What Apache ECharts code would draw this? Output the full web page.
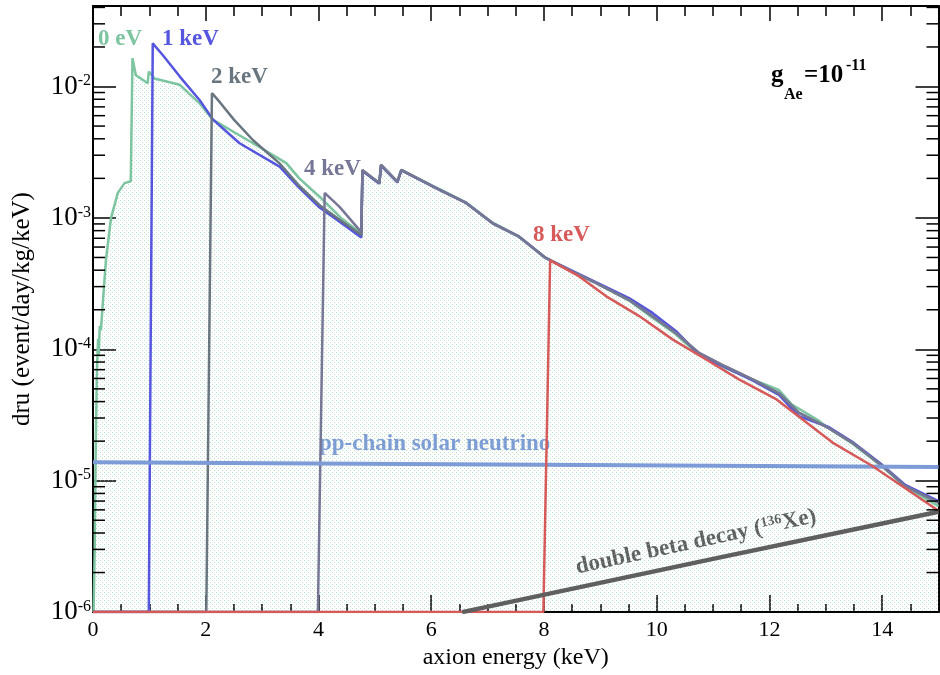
<!DOCTYPE html>
<html><head><meta charset="utf-8">
<script src="https://cdn.jsdelivr.net/npm/echarts@6/dist/echarts.min.js"></script>
<style>html,body{margin:0;padding:0;background:#fff}#c{width:940px;height:675px}</style>
</head><body><div id="c"></div>
<script>
const SERIF = '"Liberation Serif","Times New Roman",serif';

// axis ranges
const xRange = [0, 15];
const yRange = [1e-6, 0.041];
const yMinorMantissas = [2, 3, 4, 5, 6, 7, 8, 9];
const yDecades = [1e-6, 1e-5, 1e-4, 1e-3, 1e-2];

// spectra (x: keV, y: dru)
const green0eV = [[0.01,1e-6],[0.03,3e-6],[0.05,2e-5],[0.07,7e-5],[0.09,1.2e-4],[0.10,9e-5],[0.12,1.5e-4],[0.14,1.4e-4],[0.20,3.2e-4],[0.23,4.8e-4],[0.32,1.0e-3],[0.44,1.55e-3],[0.56,1.84e-3],[0.67,1.9e-3],[0.70,1.64e-2],[0.76,1.22e-2],[0.85,1.15e-2],[0.97,1.06e-2],[0.99,1.3e-2],[1.09,1.15e-2],[1.12,1.17e-2],[1.54,1.03e-2],[1.89,7.45e-3],[2.13,5.57e-3],[2.84,3.7e-3],[3.43,2.61e-3],[3.66,2.0e-3],[4.02,1.45e-3],[4.40,1.0e-3],[4.76,7.6e-4],[4.78,2.3e-3],[5.08,1.84e-3],[5.11,2.52e-3],[5.40,1.89e-3],[5.47,2.32e-3],[6.14,1.66e-3],[6.62,1.31e-3],[7.09,9.2e-4],[7.56,7.2e-4],[8.03,4.96e-4],[8.45,4.0e-4],[8.92,3.2e-4],[9.51,2.35e-4],[9.92,1.75e-4],[10.34,1.3e-4],[10.75,9.1e-5],[11.22,7.2e-5],[11.70,5.9e-5],[12.17,4.9e-5],[12.40,3.8e-5],[12.88,2.85e-5],[13.06,2.5e-5],[13.47,1.92e-5],[14.00,1.28e-5],[14.41,9.0e-6],[15.00,6.4e-6]];
const blue1keV = [[0,1e-6],[0.99,1e-6],[1.06,2.13e-2],[1.24,1.73e-2],[1.54,1.19e-2],[1.89,7.9e-3],[2.13,5.6e-3],[2.60,3.7e-3],[3.31,2.46e-3],[3.66,1.69e-3],[4.02,1.2e-3],[4.40,9.2e-4],[4.76,7.1e-4],[4.78,2.28e-3],[5.08,1.82e-3],[5.11,2.5e-3],[5.40,1.86e-3],[5.47,2.3e-3],[6.14,1.64e-3],[6.62,1.3e-3],[7.09,9.1e-4],[7.56,7.2e-4],[8.03,4.96e-4],[8.45,4.05e-4],[8.92,3.25e-4],[9.51,2.45e-4],[9.92,1.9e-4],[10.34,1.38e-4],[10.75,9.1e-5],[11.22,7.3e-5],[11.70,5.8e-5],[12.17,4.5e-5],[12.52,3.1e-5],[13.06,2.55e-5],[13.47,1.98e-5],[14.00,1.32e-5],[14.41,9.3e-6],[15.00,7.0e-6]];
const gray2keV = [[0,1e-6],[2.01,1e-6],[2.11,8.9e-3],[2.25,7.6e-3],[2.50,5.6e-3],[2.84,3.9e-3],[3.31,2.6e-3],[3.66,1.75e-3],[4.02,1.25e-3],[4.40,9.5e-4],[4.76,7.4e-4],[4.78,2.3e-3],[5.08,1.84e-3],[5.11,2.52e-3],[5.40,1.88e-3],[5.47,2.31e-3],[6.14,1.64e-3],[6.62,1.3e-3],[7.09,9.1e-4],[7.56,7.2e-4],[8.03,4.96e-4],[8.45,4.0e-4],[8.92,3.2e-4],[9.51,2.38e-4],[9.92,1.79e-4],[10.34,1.33e-4],[10.75,9.4e-5],[11.22,7.4e-5],[11.70,5.9e-5],[12.17,4.6e-5],[12.52,3.3e-5],[13.06,2.5e-5],[13.47,1.95e-5],[14.00,1.3e-5],[14.41,9.1e-6],[15.00,6.8e-6]];
const gray4keV = [[0,1e-6],[3.99,1e-6],[4.11,1.55e-3],[4.37,1.22e-3],[4.76,7.8e-4],[4.78,2.32e-3],[5.08,1.84e-3],[5.11,2.54e-3],[5.40,1.89e-3],[5.47,2.32e-3],[6.14,1.64e-3],[6.62,1.3e-3],[7.09,9.1e-4],[7.56,7.2e-4],[8.03,4.96e-4],[8.45,4.0e-4],[8.92,3.2e-4],[9.51,2.37e-4],[9.92,1.79e-4],[10.34,1.33e-4],[10.75,9.4e-5],[11.22,7.4e-5],[11.70,5.9e-5],[12.17,4.65e-5],[12.52,3.3e-5],[13.06,2.5e-5],[13.47,1.95e-5],[14.00,1.3e-5],[14.41,9.1e-6],[15.00,6.8e-6]];
const red8keV = [[0,1e-6],[7.99,1e-6],[8.11,4.75e-4],[8.62,3.6e-4],[9.10,2.54e-4],[9.69,1.79e-4],[10.28,1.19e-4],[10.87,8.4e-5],[11.46,5.9e-5],[12.11,4.2e-5],[13.12,1.95e-5],[13.82,1.3e-5],[15.00,5.9e-6]];
const ppChain = [[0,1.38e-5],[15,1.27e-5]];
const doubleBeta = [[6.55,1e-6],[11,2.54e-6],[15,5.8e-6]];

const yMinorTicks = [];
yDecades.forEach(d => yMinorMantissas.forEach(m => { if (d*m < yRange[1]) yMinorTicks.push(d*m); }));

const C = {green:'#7dc4a0', blue:'#5555dd', g2:'#697680', g4:'#767696', red:'#d65a5a', pp:'#7d9bd7', bb:'#5f5f5f'};

const pc = document.createElement('canvas'); pc.width = 4; pc.height = 4;
const pg = pc.getContext('2d'); pg.fillStyle = 'rgba(125,198,158,0.5)';
pg.fillRect(0,0,1,1); pg.fillRect(2,2,1,1);

const chart = echarts.init(document.getElementById('c'), null, {renderer:'canvas'});
const axLine = {show:true, onZero:false, lineStyle:{color:'#000', width:2}};
const tickStyle = {color:'#000', width:1.5};
function xa(pos, interval, len, withLine, withLabel){
  const a = {type:'value', min:xRange[0], max:xRange[1], interval, position:pos,
    axisLine: withLine ? axLine : {show:false, onZero:false},
    axisTick:{show:true, inside:true, length:len, lineStyle:tickStyle},
    axisLabel:{show:withLabel, fontFamily:SERIF, fontSize:22, color:'#000', margin:7, showMaxLabel:false},
    splitLine:{show:false}};
  if (withLabel) Object.assign(a, {name:'axion energy (keV)', nameLocation:'middle', nameGap:32,
    nameTextStyle:{fontFamily:SERIF, fontSize:24, color:'#000'}});
  return a;
}
function ya(pos, withLabel){
  const a = {type:'log', logBase:10, min:yRange[0], max:yRange[1], position:pos,
    axisLine:axLine, axisTick:{show:true, inside:true, length:23, lineStyle:tickStyle},
    axisLabel:{show:withLabel, margin:2, showMaxLabel:false,
      formatter: v => '{b|10}{s|' + Math.round(Math.log10(v)) + '}',
      rich:{b:{fontFamily:SERIF, fontSize:27, color:'#000'}, s:{fontFamily:SERIF, fontSize:16, color:'#000', verticalAlign:'top'}}},
    splitLine:{show:false}, minorTick:{show:false}};
  if (withLabel) Object.assign(a, {name:'dru (event/day/kg/keV)', nameLocation:'middle', nameGap:58,
    nameTextStyle:{fontFamily:SERIF, fontSize:25, color:'#000'}});
  return a;
}
function line(name, data, color, width, extra){
  return Object.assign({name, type:'line', data, symbol:'none', showSymbol:false, silent:true,
    lineStyle:{color, width}, itemStyle:{color}}, extra||{});
}
function txt(text, x, y, color, size){
  return {type:'text', x, y, silent:true, style:{text, fill:color,
    font:'bold ' + size + 'px ' + SERIF, align:'left', verticalAlign:'middle'}};
}

chart.setOption({
  animation:false,
  grid:{left:93, right:1.5, top:6, bottom:62},
  xAxis:[xa('bottom',2,17,true,true), xa('bottom',0.5,8,false,false), xa('top',2,15,true,false), xa('top',0.5,10,false,false)],
  yAxis:[ya('left',true), ya('right',false)],
  series:[
    line('0 eV', green0eV, C.green, 2.5, {areaStyle:{color:{image:pc, repeat:'repeat'}, origin:'start', opacity:1}}),
    line('1 keV', blue1keV, C.blue, 2.5),
    line('2 keV', gray2keV, C.g2, 2.5),
    line('4 keV', gray4keV, C.g4, 2.5),
    line('pp-chain', ppChain, C.pp, 4),
    line('8 keV', red8keV, C.red, 2.5),
    line('double beta', doubleBeta, C.bb, 4.5),
    {type:'custom', silent:true, clip:false, z:5, data:yMinorTicks.map(v => [xRange[0], v]),
      renderItem:(params, api) => {
        const v = api.value(1);
        const l = api.coord([xRange[0], v]), r = api.coord([xRange[1], v]);
        return {type:'group', children:[
          {type:'line', shape:{x1:l[0], y1:l[1], x2:l[0]+12, y2:l[1]}, style:{stroke:'#000', lineWidth:1.5}},
          {type:'line', shape:{x1:r[0], y1:r[1], x2:r[0]-12, y2:r[1]}, style:{stroke:'#000', lineWidth:1.5}}]};
      }}
  ],
  graphic:[
    txt('0 eV', 98, 39, C.green, 23),
    txt('1 keV', 162, 39, C.blue, 23),
    txt('2 keV', 211, 77, C.g2, 23),
    txt('4 keV', 304, 169, C.g4, 23),
    txt('8 keV', 533, 235, C.red, 23),
    txt('pp-chain solar neutrino', 319, 444, C.pp, 23),
    txt('g', 771, 76, '#000', 25),
    txt('Ae', 784, 95, '#000', 16),
    txt('=10', 804, 76, '#000', 25),
    txt('-11', 846, 66, '#000', 16),
    {type:'text', x:696, y:542, rotation:12.1*Math.PI/180, silent:true,
      style:{text:'{t|double beta decay (}{s|136}{t|Xe)}', align:'center', verticalAlign:'middle',
        rich:{t:{font:'bold 23px ' + SERIF, fill:C.bb}, s:{font:'bold 14px ' + SERIF, fill:C.bb, verticalAlign:'top'}}}}
  ]
});
</script></body></html>
